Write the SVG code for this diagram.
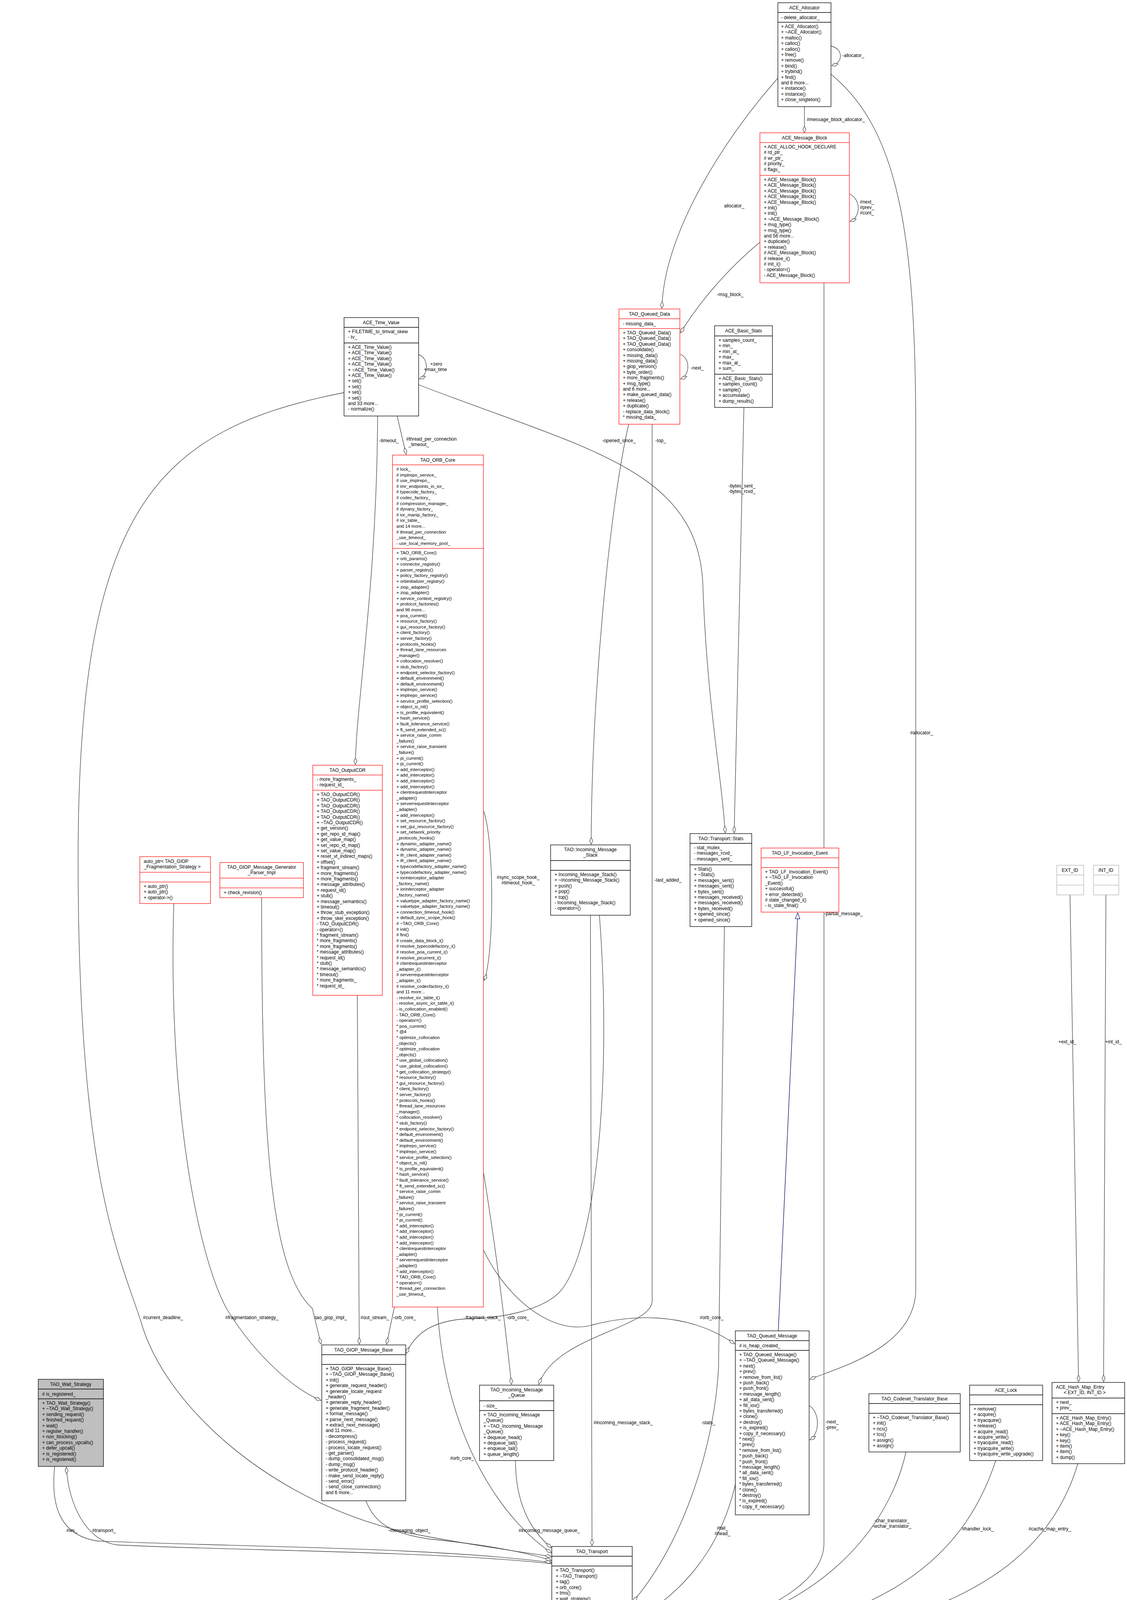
<svg xmlns="http://www.w3.org/2000/svg" width="2886" height="4800" viewBox="0 0 2886 4800">
<defs>
<style>
text{font-family:"Liberation Sans",Arial,sans-serif;font-size:12px;fill:#000}
.t{text-anchor:middle}
.b{fill:#fff;stroke:#000;stroke-width:1.3}
.r{fill:#fff;stroke:#ff3030;stroke-width:1.5}
.gf{fill:#bfbfbf;stroke:#000;stroke-width:1.3}
.gb{fill:#fff;stroke:#bfbfbf;stroke-width:1.5}
.dl{stroke:#000;stroke-width:1.3}
.dr{stroke:#ff3030;stroke-width:1.5}
.dg{stroke:#bfbfbf;stroke-width:1.5}
.e{fill:none;stroke:#404040;stroke-width:1.3;marker-end:url(#dia)}
.i{fill:none;stroke:#191970;stroke-width:1.4;marker-end:url(#tri)}
</style>
<marker id="dia" markerUnits="userSpaceOnUse" markerWidth="20" markerHeight="12" refX="18" refY="6" orient="auto"><path d="M1,6 L9.5,2 L18,6 L9.5,10 z" fill="#fff" stroke="#404040" stroke-width="1.2"/></marker>
<marker id="tri" markerUnits="userSpaceOnUse" markerWidth="18" markerHeight="14" refX="16" refY="7" orient="auto"><path d="M1,1 L16,7 L1,13 z" fill="#fff" stroke="#191970" stroke-width="1.3"/></marker>
</defs>
<rect width="2886" height="4800" fill="#fff"/>

<g id="connectors">
<path class="e" d="M2128,118 C2160,125 2160,160 2130,168"/>
<path class="e" d="M2060,273 L2060,340"/>
<path class="e" d="M1992,200 C1850,360 1700,600 1695,789"/>
<path class="e" d="M2128,190 C2300,330 2345,600 2345,1100 L2345,3300 C2345,3450 2150,3500 2074,3531"/>
<path class="e" d="M2175,496 C2205,510 2205,555 2177,567"/>
<path class="e" d="M1946,620 C1850,700 1780,790 1743,852"/>
<path class="e" d="M2110,724 L2110,3950 C2110,4100 1800,4180 1621,4230"/>
<path class="e" d="M1741,907 C1768,915 1768,960 1743,970"/>
<path class="e" d="M1610,1086 C1560,1300 1514,1800 1514,2161"/>
<path class="e" d="M1670,1086 L1670,3330 C1670,3400 1420,3420 1380,3544"/>
<path class="e" d="M1072,908 C1098,915 1098,960 1074,970"/>
<path class="e" d="M967,1065 C965,1500 912,1800 910,1957"/>
<path class="e" d="M1017,1065 L1040,1163"/>
<path class="e" d="M881,1005 C400,1100 200,1300 200,2200 C200,3000 300,3200 360,3380 C420,3600 700,3850 1050,3925 C1200,3955 1350,3975 1412,3985"/>
<path class="e" d="M1072,985 C1500,1150 1790,1200 1800,1500 C1810,1800 1850,2000 1857,2132"/>
<path class="e" d="M1905,1043 L1880,2132"/>
<path class="e" d="M1512,2343 L1516,3957"/>
<path class="e" d="M1535,2343 C1570,2800 1520,3250 1419,3320 C1380,3350 1300,3374 1200,3376 C1100,3380 1060,3420 1040,3465"/>
<path class="e" d="M1238,2075 C1266,2150 1266,2440 1240,2510"/>
<path class="e" d="M1010,3346 L990,3441"/>
<path class="e" d="M1238,3000 C1270,3200 1285,3320 1310,3544"/>
<path class="e" d="M1120,3346 C1140,3700 1300,3900 1412,3975"/>
<path class="e" d="M1238,3200 C1300,3330 1420,3420 1516,3392 C1600,3370 1750,3350 1881,3440"/>
<path class="e" d="M915,2548 L920,3441"/>
<path class="e" d="M445,2313 C430,2800 500,3200 580,3350 C660,3480 760,3560 822,3585"/>
<path class="e" d="M670,2298 C670,2900 690,3250 800,3350 L822,3441"/>
<path class="e" d="M937,3842 C960,3900 1000,3925 1100,3940 C1250,3955 1350,3975 1412,3995"/>
<path class="e" d="M140,3754 C130,3850 150,3930 250,3945 C600,3960 1100,3960 1412,4000"/>
<path class="e" d="M1413,4003 C1100,3970 600,3970 300,3955 C220,3945 175,3850 170,3756"/>
<path class="e" d="M1320,3739 C1320,3850 1360,3920 1412,3962"/>
<path class="i" d="M1993,3407 L2043,2337"/>
<path class="e" d="M1855,2372 L1840,3500 C1830,3700 1750,3950 1621,4100"/>
<path class="e" d="M2072,3598 C2100,3615 2100,3670 2074,3686"/>
<path class="e" d="M1883,3800 C1860,3900 1800,4050 1621,4150"/>
<path class="e" d="M2320,3717 C2280,3900 2100,4170 1621,4205"/>
<path class="e" d="M2550,3739 C2480,3950 2300,4200 1621,4215"/>
<path class="e" d="M2760,3747 C2700,3950 2500,4225 1621,4225"/>
<path class="e" d="M2740,2291 L2762,3537"/>
<path class="e" d="M2832,2291 L2826,3537"/>
<path class="i" d="M1320,4629 C1300,4500 1285,4400 1280,4264"/>
<path class="e" d="M1305,4629 C1300,4550 1330,4510 1360,4500 C1390,4490 1400,4450 1412,4430"/>
<path class="e" d="M1465,4489 C1440,4560 1410,4600 1405,4627"/>
<path class="e" d="M1585,4489 L1625,4554"/>
<path class="e" d="M1710,4556 C1710,4520 1620,4510 1619,4491"/>
<text x="2157" y="146">-allocator_</text>
<text x="2066" y="310">#message_block_allocator_</text>
<text x="1880" y="531" class="t">allocator_</text>
<text x="2360" y="1880" class="t">#allocator_</text>
<text x="2202" y="521">#next_</text><text x="2202" y="535">#prev_</text><text x="2202" y="549">#cont_</text>
<text x="1870" y="758" class="t">-msg_block_</text>
<text x="2160" y="2343" class="t">-partial_message_</text>
<text x="1769" y="946">-next_</text>
<text x="1692" y="1132" class="t">-top_</text>
<text x="1585" y="1132" class="t">-opened_since_</text>
<text x="1676" y="2257">-last_added_</text>
<text x="1117" y="936" class="t">+zero</text><text x="1115" y="950" class="t">+max_time</text>
<text x="996" y="1132" class="t">-timeout_</text>
<text x="1040" y="1128">#thread_per_connection</text><text x="1046" y="1142">_timeout_</text>
<text x="366" y="3377">#current_deadline_</text>
<text x="1900" y="1248" class="t">-bytes_sent_</text><text x="1900" y="1262" class="t">-bytes_rcvd_</text>
<text x="1520" y="3646">#incoming_message_stack_</text>
<text x="1282" y="3377" style="text-anchor:end">-fragment_stack_</text>
<text x="1327" y="2250" class="t">#sync_scope_hook_</text><text x="1327" y="2264" class="t">#timeout_hook_</text>
<text x="1007" y="3377">-orb_core_</text>
<text x="1297" y="3377">-orb_core_</text>
<text x="1183" y="3737" class="t">#orb_core_</text>
<text x="1792" y="3377">#orb_core_</text>
<text x="923" y="3377">#out_stream_</text>
<text x="577" y="3377">#fragmentation_strategy_</text>
<text x="803" y="3377">-tao_giop_impl_</text>
<text x="995" y="3922">-messaging_object_</text>
<text x="170" y="3922">#ws_</text>
<text x="236" y="3922">#transport_</text>
<text x="1796" y="3646">-stats_</text>
<text x="2114" y="3644">-next_</text><text x="2114" y="3658">-prev_</text>
<text x="1850" y="3916" class="t">#tail_</text><text x="1850" y="3930" class="t">#head_</text>
<text x="1328" y="3922">#incoming_message_queue_</text>
<text x="2284" y="3897" class="t">-char_translator_</text><text x="2284" y="3911" class="t">-wchar_translator_</text>
<text x="2504" y="3918" class="t">#handler_lock_</text>
<text x="2688" y="3918" class="t">#cache_map_entry_</text>
<text x="2756" y="2671" style="text-anchor:end">+ext_id_</text>
<text x="2830" y="2671">+int_id_</text>
<text x="1328" y="4526">#transport_timer_</text>
<text x="1442" y="4526">-transport_</text>
<text x="1557" y="4526">#transport_</text>
<text x="1640" y="4526">#tms_</text>
</g>

<g id="ACE_Allocator">
<rect class="b" x="1992" y="7" width="136" height="266"/>
<line class="dl" x1="1992" y1="32" x2="2128" y2="32"/><line class="dl" x1="1992" y1="57" x2="2128" y2="57"/>
<text x="2060" y="24" class="t">ACE_Allocator</text>
<text x="2000" y="49">- delete_allocator_</text>
<text x="2000" y="72"><tspan x="2000">+ ACE_Allocator()</tspan><tspan x="2000" dy="14.4">+ ~ACE_Allocator()</tspan><tspan x="2000" dy="14.4">+ malloc()</tspan><tspan x="2000" dy="14.4">+ calloc()</tspan><tspan x="2000" dy="14.4">+ calloc()</tspan><tspan x="2000" dy="14.4">+ free()</tspan><tspan x="2000" dy="14.4">+ remove()</tspan><tspan x="2000" dy="14.4">+ bind()</tspan><tspan x="2000" dy="14.4">+ trybind()</tspan><tspan x="2000" dy="14.4">+ find()</tspan><tspan x="2000" dy="14.4">and 8 more...</tspan><tspan x="2000" dy="14.4">+ instance()</tspan><tspan x="2000" dy="14.4">+ instance()</tspan><tspan x="2000" dy="14.4">+ close_singleton()</tspan></text>
</g>

<g id="ACE_Message_Block">
<rect class="r" x="1946" y="340" width="229" height="384"/>
<line class="dr" x1="1946" y1="365" x2="2175" y2="365"/><line class="dr" x1="1946" y1="449" x2="2175" y2="449"/>
<text x="2060" y="357" class="t">ACE_Message_Block</text>
<text x="1956" y="380"><tspan x="1956">+ ACE_ALLOC_HOOK_DECLARE</tspan><tspan x="1956" dy="14.4"># rd_ptr_</tspan><tspan x="1956" dy="14.4"># wr_ptr_</tspan><tspan x="1956" dy="14.4"># priority_</tspan><tspan x="1956" dy="14.4"># flags_</tspan></text>
<text x="1956" y="464"><tspan x="1956">+ ACE_Message_Block()</tspan><tspan x="1956" dy="14.4">+ ACE_Message_Block()</tspan><tspan x="1956" dy="14.4">+ ACE_Message_Block()</tspan><tspan x="1956" dy="14.4">+ ACE_Message_Block()</tspan><tspan x="1956" dy="14.4">+ ACE_Message_Block()</tspan><tspan x="1956" dy="14.4">+ init()</tspan><tspan x="1956" dy="14.4">+ init()</tspan><tspan x="1956" dy="14.4">+ ~ACE_Message_Block()</tspan><tspan x="1956" dy="14.4">+ msg_type()</tspan><tspan x="1956" dy="14.4">+ msg_type()</tspan><tspan x="1956" dy="14.4">and 56 more...</tspan><tspan x="1956" dy="14.4">+ duplicate()</tspan><tspan x="1956" dy="14.4">+ release()</tspan><tspan x="1956" dy="14.4"># ACE_Message_Block()</tspan><tspan x="1956" dy="14.4"># release_i()</tspan><tspan x="1956" dy="14.4"># init_i()</tspan><tspan x="1956" dy="14.4">- operator=()</tspan><tspan x="1956" dy="14.4">- ACE_Message_Block()</tspan></text>
</g>

<g id="TAO_Queued_Data">
<rect class="r" x="1585" y="791" width="156" height="295"/>
<line class="dr" x1="1585" y1="816" x2="1741" y2="816"/><line class="dr" x1="1585" y1="841" x2="1741" y2="841"/>
<text x="1663" y="808" class="t">TAO_Queued_Data</text>
<text x="1595" y="833">- missing_data_</text>
<text x="1595" y="856"><tspan x="1595">+ TAO_Queued_Data()</tspan><tspan x="1595" dy="14.4">+ TAO_Queued_Data()</tspan><tspan x="1595" dy="14.4">+ TAO_Queued_Data()</tspan><tspan x="1595" dy="14.4">+ consolidate()</tspan><tspan x="1595" dy="14.4">+ missing_data()</tspan><tspan x="1595" dy="14.4">+ missing_data()</tspan><tspan x="1595" dy="14.4">+ giop_version()</tspan><tspan x="1595" dy="14.4">+ byte_order()</tspan><tspan x="1595" dy="14.4">+ more_fragments()</tspan><tspan x="1595" dy="14.4">+ msg_type()</tspan><tspan x="1595" dy="14.4">and 6 more...</tspan><tspan x="1595" dy="14.4">+ make_queued_data()</tspan><tspan x="1595" dy="14.4">+ release()</tspan><tspan x="1595" dy="14.4">+ duplicate()</tspan><tspan x="1595" dy="14.4">- replace_data_block()</tspan><tspan x="1595" dy="14.4">* missing_data_</tspan></text>
</g>

<g id="ACE_Basic_Stats">
<rect class="b" x="1830" y="834" width="148" height="209"/>
<line class="dl" x1="1830" y1="860" x2="1978" y2="860"/><line class="dl" x1="1830" y1="958" x2="1978" y2="958"/>
<text x="1904" y="851" class="t">ACE_Basic_Stats</text>
<text x="1840" y="875"><tspan x="1840">+ samples_count_</tspan><tspan x="1840" dy="14.4">+ min_</tspan><tspan x="1840" dy="14.4">+ min_at_</tspan><tspan x="1840" dy="14.4">+ max_</tspan><tspan x="1840" dy="14.4">+ max_at_</tspan><tspan x="1840" dy="14.4">+ sum_</tspan></text>
<text x="1840" y="973"><tspan x="1840">+ ACE_Basic_Stats()</tspan><tspan x="1840" dy="14.4">+ samples_count()</tspan><tspan x="1840" dy="14.4">+ sample()</tspan><tspan x="1840" dy="14.4">+ accumulate()</tspan><tspan x="1840" dy="14.4">+ dump_results()</tspan></text>
</g>

<g id="ACE_Time_Value">
<rect class="b" x="881" y="813" width="191" height="252"/>
<line class="dl" x1="881" y1="838" x2="1072" y2="838"/><line class="dl" x1="881" y1="878" x2="1072" y2="878"/>
<text x="976" y="830" class="t">ACE_Time_Value</text>
<text x="891" y="853"><tspan x="891">+ FILETIME_to_timval_skew</tspan><tspan x="891" dy="14.4">- tv_</tspan></text>
<text x="891" y="893"><tspan x="891">+ ACE_Time_Value()</tspan><tspan x="891" dy="14.4">+ ACE_Time_Value()</tspan><tspan x="891" dy="14.4">+ ACE_Time_Value()</tspan><tspan x="891" dy="14.4">+ ACE_Time_Value()</tspan><tspan x="891" dy="14.4">+ ~ACE_Time_Value()</tspan><tspan x="891" dy="14.4">+ ACE_Time_Value()</tspan><tspan x="891" dy="14.4">+ set()</tspan><tspan x="891" dy="14.4">+ set()</tspan><tspan x="891" dy="14.4">+ set()</tspan><tspan x="891" dy="14.4">+ set()</tspan><tspan x="891" dy="14.4">and 33 more...</tspan><tspan x="891" dy="14.4">- normalize()</tspan></text>
</g>

<g id="TAO_ORB_Core">
<rect class="r" x="1005" y="1165" width="233" height="2181"/>
<line class="dr" x1="1005" y1="1190" x2="1238" y2="1190"/><line class="dr" x1="1005" y1="1404" x2="1238" y2="1404"/>
<text x="1121" y="1182" class="t">TAO_ORB_Core</text>
<text x="1015" y="1205" style="font-size:11.5px"><tspan x="1015"># lock_</tspan><tspan x="1015" dy="14.6"># implrepo_service_</tspan><tspan x="1015" dy="14.6"># use_implrepo_</tspan><tspan x="1015" dy="14.6"># imr_endpoints_in_ior_</tspan><tspan x="1015" dy="14.6"># typecode_factory_</tspan><tspan x="1015" dy="14.6"># codec_factory_</tspan><tspan x="1015" dy="14.6"># compression_manager_</tspan><tspan x="1015" dy="14.6"># dynany_factory_</tspan><tspan x="1015" dy="14.6"># ior_manip_factory_</tspan><tspan x="1015" dy="14.6"># ior_table_</tspan><tspan x="1015" dy="14.6">and 14 more...</tspan><tspan x="1015" dy="14.6"># thread_per_connection</tspan><tspan x="1015" dy="14.6">_use_timeout_</tspan><tspan x="1015" dy="14.6">- use_local_memory_pool_</tspan></text>
<text x="1015" y="1419" style="font-size:11.5px"><tspan x="1015">+ TAO_ORB_Core()</tspan><tspan x="1015" dy="14.6">+ orb_params()</tspan><tspan x="1015" dy="14.6">+ connector_registry()</tspan><tspan x="1015" dy="14.6">+ parser_registry()</tspan><tspan x="1015" dy="14.6">+ policy_factory_registry()</tspan><tspan x="1015" dy="14.6">+ orbinitializer_registry()</tspan><tspan x="1015" dy="14.6">+ ziop_adapter()</tspan><tspan x="1015" dy="14.6">+ ziop_adapter()</tspan><tspan x="1015" dy="14.6">+ service_context_registry()</tspan><tspan x="1015" dy="14.6">+ protocol_factories()</tspan><tspan x="1015" dy="14.6">and 96 more...</tspan><tspan x="1015" dy="14.6">+ poa_current()</tspan><tspan x="1015" dy="14.6">+ resource_factory()</tspan><tspan x="1015" dy="14.6">+ gui_resource_factory()</tspan><tspan x="1015" dy="14.6">+ client_factory()</tspan><tspan x="1015" dy="14.6">+ server_factory()</tspan><tspan x="1015" dy="14.6">+ protocols_hooks()</tspan><tspan x="1015" dy="14.6">+ thread_lane_resources</tspan><tspan x="1015" dy="14.6">_manager()</tspan><tspan x="1015" dy="14.6">+ collocation_resolver()</tspan><tspan x="1015" dy="14.6">+ stub_factory()</tspan><tspan x="1015" dy="14.6">+ endpoint_selector_factory()</tspan><tspan x="1015" dy="14.6">+ default_environment()</tspan><tspan x="1015" dy="14.6">+ default_environment()</tspan><tspan x="1015" dy="14.6">+ implrepo_service()</tspan><tspan x="1015" dy="14.6">+ implrepo_service()</tspan><tspan x="1015" dy="14.6">+ service_profile_selection()</tspan><tspan x="1015" dy="14.6">+ object_is_nil()</tspan><tspan x="1015" dy="14.6">+ is_profile_equivalent()</tspan><tspan x="1015" dy="14.6">+ hash_service()</tspan><tspan x="1015" dy="14.6">+ fault_tolerance_service()</tspan><tspan x="1015" dy="14.6">+ ft_send_extended_sc()</tspan><tspan x="1015" dy="14.6">+ service_raise_comm</tspan><tspan x="1015" dy="14.6">_failure()</tspan><tspan x="1015" dy="14.6">+ service_raise_transient</tspan><tspan x="1015" dy="14.6">_failure()</tspan><tspan x="1015" dy="14.6">+ pi_current()</tspan><tspan x="1015" dy="14.6">+ pi_current()</tspan><tspan x="1015" dy="14.6">+ add_interceptor()</tspan><tspan x="1015" dy="14.6">+ add_interceptor()</tspan><tspan x="1015" dy="14.6">+ add_interceptor()</tspan><tspan x="1015" dy="14.6">+ add_interceptor()</tspan><tspan x="1015" dy="14.6">+ clientrequestinterceptor</tspan><tspan x="1015" dy="14.6">_adapter()</tspan><tspan x="1015" dy="14.6">+ serverrequestinterceptor</tspan><tspan x="1015" dy="14.6">_adapter()</tspan><tspan x="1015" dy="14.6">+ add_interceptor()</tspan><tspan x="1015" dy="14.6">+ set_resource_factory()</tspan><tspan x="1015" dy="14.6">+ set_gui_resource_factory()</tspan><tspan x="1015" dy="14.6">+ set_network_priority</tspan><tspan x="1015" dy="14.6">_protocols_hooks()</tspan><tspan x="1015" dy="14.6">+ dynamic_adapter_name()</tspan><tspan x="1015" dy="14.6">+ dynamic_adapter_name()</tspan><tspan x="1015" dy="14.6">+ ifr_client_adapter_name()</tspan><tspan x="1015" dy="14.6">+ ifr_client_adapter_name()</tspan><tspan x="1015" dy="14.6">+ typecodefactory_adapter_name()</tspan><tspan x="1015" dy="14.6">+ typecodefactory_adapter_name()</tspan><tspan x="1015" dy="14.6">+ iorinterceptor_adapter</tspan><tspan x="1015" dy="14.6">_factory_name()</tspan><tspan x="1015" dy="14.6">+ iorinterceptor_adapter</tspan><tspan x="1015" dy="14.6">_factory_name()</tspan><tspan x="1015" dy="14.6">+ valuetype_adapter_factory_name()</tspan><tspan x="1015" dy="14.6">+ valuetype_adapter_factory_name()</tspan><tspan x="1015" dy="14.6">+ connection_timeout_hook()</tspan><tspan x="1015" dy="14.6">+ default_sync_scope_hook()</tspan><tspan x="1015" dy="14.6"># ~TAO_ORB_Core()</tspan><tspan x="1015" dy="14.6"># init()</tspan><tspan x="1015" dy="14.6"># fini()</tspan><tspan x="1015" dy="14.6"># create_data_block_i()</tspan><tspan x="1015" dy="14.6"># resolve_typecodefactory_i()</tspan><tspan x="1015" dy="14.6"># resolve_poa_current_i()</tspan><tspan x="1015" dy="14.6"># resolve_picurrent_i()</tspan><tspan x="1015" dy="14.6"># clientrequestinterceptor</tspan><tspan x="1015" dy="14.6">_adapter_i()</tspan><tspan x="1015" dy="14.6"># serverrequestinterceptor</tspan><tspan x="1015" dy="14.6">_adapter_i()</tspan><tspan x="1015" dy="14.6"># resolve_codecfactory_i()</tspan><tspan x="1015" dy="14.6">and 11 more...</tspan><tspan x="1015" dy="14.6">- resolve_ior_table_i()</tspan><tspan x="1015" dy="14.6">- resolve_async_ior_table_i()</tspan><tspan x="1015" dy="14.6">- is_collocation_enabled()</tspan><tspan x="1015" dy="14.6">- TAO_ORB_Core()</tspan><tspan x="1015" dy="14.6">- operator=()</tspan><tspan x="1015" dy="14.6">* poa_current()</tspan><tspan x="1015" dy="14.6">* @4</tspan><tspan x="1015" dy="14.6">* optimize_collocation</tspan><tspan x="1015" dy="14.6">_objects()</tspan><tspan x="1015" dy="14.6">* optimize_collocation</tspan><tspan x="1015" dy="14.6">_objects()</tspan><tspan x="1015" dy="14.6">* use_global_collocation()</tspan><tspan x="1015" dy="14.6">* use_global_collocation()</tspan><tspan x="1015" dy="14.6">* get_collocation_strategy()</tspan><tspan x="1015" dy="14.6">* resource_factory()</tspan><tspan x="1015" dy="14.6">* gui_resource_factory()</tspan><tspan x="1015" dy="14.6">* client_factory()</tspan><tspan x="1015" dy="14.6">* server_factory()</tspan><tspan x="1015" dy="14.6">* protocols_hooks()</tspan><tspan x="1015" dy="14.6">* thread_lane_resources</tspan><tspan x="1015" dy="14.6">_manager()</tspan><tspan x="1015" dy="14.6">* collocation_resolver()</tspan><tspan x="1015" dy="14.6">* stub_factory()</tspan><tspan x="1015" dy="14.6">* endpoint_selector_factory()</tspan><tspan x="1015" dy="14.6">* default_environment()</tspan><tspan x="1015" dy="14.6">* default_environment()</tspan><tspan x="1015" dy="14.6">* implrepo_service()</tspan><tspan x="1015" dy="14.6">* implrepo_service()</tspan><tspan x="1015" dy="14.6">* service_profile_selection()</tspan><tspan x="1015" dy="14.6">* object_is_nil()</tspan><tspan x="1015" dy="14.6">* is_profile_equivalent()</tspan><tspan x="1015" dy="14.6">* hash_service()</tspan><tspan x="1015" dy="14.6">* fault_tolerance_service()</tspan><tspan x="1015" dy="14.6">* ft_send_extended_sc()</tspan><tspan x="1015" dy="14.6">* service_raise_comm</tspan><tspan x="1015" dy="14.6">_failure()</tspan><tspan x="1015" dy="14.6">* service_raise_transient</tspan><tspan x="1015" dy="14.6">_failure()</tspan><tspan x="1015" dy="14.6">* pi_current()</tspan><tspan x="1015" dy="14.6">* pi_current()</tspan><tspan x="1015" dy="14.6">* add_interceptor()</tspan><tspan x="1015" dy="14.6">* add_interceptor()</tspan><tspan x="1015" dy="14.6">* add_interceptor()</tspan><tspan x="1015" dy="14.6">* add_interceptor()</tspan><tspan x="1015" dy="14.6">* clientrequestinterceptor</tspan><tspan x="1015" dy="14.6">_adapter()</tspan><tspan x="1015" dy="14.6">* serverrequestinterceptor</tspan><tspan x="1015" dy="14.6">_adapter()</tspan><tspan x="1015" dy="14.6">* add_interceptor()</tspan><tspan x="1015" dy="14.6">* TAO_ORB_Core()</tspan><tspan x="1015" dy="14.6">* operator=()</tspan><tspan x="1015" dy="14.6">* thread_per_connection</tspan><tspan x="1015" dy="14.6">_use_timeout_</tspan></text>
</g>

<g id="TAO_OutputCDR">
<rect class="r" x="801" y="1959" width="178" height="589"/>
<line class="dr" x1="801" y1="1984" x2="979" y2="1984"/><line class="dr" x1="801" y1="2023" x2="979" y2="2023"/>
<text x="890" y="1976" class="t">TAO_OutputCDR</text>
<text x="811" y="1999"><tspan x="811">- more_fragments_</tspan><tspan x="811" dy="14.4">- request_id_</tspan></text>
<text x="811" y="2038"><tspan x="811">+ TAO_OutputCDR()</tspan><tspan x="811" dy="14.4">+ TAO_OutputCDR()</tspan><tspan x="811" dy="14.4">+ TAO_OutputCDR()</tspan><tspan x="811" dy="14.4">+ TAO_OutputCDR()</tspan><tspan x="811" dy="14.4">+ TAO_OutputCDR()</tspan><tspan x="811" dy="14.4">+ ~TAO_OutputCDR()</tspan><tspan x="811" dy="14.4">+ get_version()</tspan><tspan x="811" dy="14.4">+ get_repo_id_map()</tspan><tspan x="811" dy="14.4">+ get_value_map()</tspan><tspan x="811" dy="14.4">+ set_repo_id_map()</tspan><tspan x="811" dy="14.4">+ set_value_map()</tspan><tspan x="811" dy="14.4">+ reset_vt_indirect_maps()</tspan><tspan x="811" dy="14.4">+ offset()</tspan><tspan x="811" dy="14.4">+ fragment_stream()</tspan><tspan x="811" dy="14.4">+ more_fragments()</tspan><tspan x="811" dy="14.4">+ more_fragments()</tspan><tspan x="811" dy="14.4">+ message_attributes()</tspan><tspan x="811" dy="14.4">+ request_id()</tspan><tspan x="811" dy="14.4">+ stub()</tspan><tspan x="811" dy="14.4">+ message_semantics()</tspan><tspan x="811" dy="14.4">+ timeout()</tspan><tspan x="811" dy="14.4">+ throw_stub_exception()</tspan><tspan x="811" dy="14.4">+ throw_skel_exception()</tspan><tspan x="811" dy="14.4">- TAO_OutputCDR()</tspan><tspan x="811" dy="14.4">- operator=()</tspan><tspan x="811" dy="14.4">* fragment_stream()</tspan><tspan x="811" dy="14.4">* more_fragments()</tspan><tspan x="811" dy="14.4">* more_fragments()</tspan><tspan x="811" dy="14.4">* message_attributes()</tspan><tspan x="811" dy="14.4">* request_id()</tspan><tspan x="811" dy="14.4">* stub()</tspan><tspan x="811" dy="14.4">* message_semantics()</tspan><tspan x="811" dy="14.4">* timeout()</tspan><tspan x="811" dy="14.4">* more_fragments_</tspan><tspan x="811" dy="14.4">* request_id_</tspan></text>
</g>

<g id="auto_ptr">
<rect class="r" x="358" y="2193" width="181" height="120"/>
<line class="dr" x1="358" y1="2233" x2="539" y2="2233"/><line class="dr" x1="358" y1="2258" x2="539" y2="2258"/>
<text x="368" y="2209"><tspan x="368">auto_ptr&lt; TAO_GIOP</tspan><tspan x="368" dy="14.4">_Fragmentation_Strategy &gt;</tspan></text>
<text x="368" y="2273"><tspan x="368">+ auto_ptr()</tspan><tspan x="368" dy="14.4">+ auto_ptr()</tspan><tspan x="368" dy="14.4">+ operator-&gt;()</tspan></text>
</g>

<g id="TAO_GIOP_Message_Generator_Parser_Impl">
<rect class="r" x="563" y="2208" width="214" height="90"/>
<line class="dr" x1="563" y1="2248" x2="777" y2="2248"/><line class="dr" x1="563" y1="2273" x2="777" y2="2273"/>
<text x="670" y="2224" class="t"><tspan x="670">TAO_GIOP_Message_Generator</tspan><tspan x="670" dy="14.4">_Parser_Impl</tspan></text>
<text x="573" y="2289">+ check_revision()</text>
</g>

<g id="TAO_Incoming_Message_Stack">
<rect class="b" x="1410" y="2163" width="204" height="180"/>
<line class="dl" x1="1410" y1="2203" x2="1614" y2="2203"/><line class="dl" x1="1410" y1="2228" x2="1614" y2="2228"/>
<text x="1512" y="2179" class="t"><tspan x="1512">TAO::Incoming_Message</tspan><tspan x="1512" dy="14.4">_Stack</tspan></text>
<text x="1420" y="2243"><tspan x="1420">+ Incoming_Message_Stack()</tspan><tspan x="1420" dy="14.4">+ ~Incoming_Message_Stack()</tspan><tspan x="1420" dy="14.4">+ push()</tspan><tspan x="1420" dy="14.4">+ pop()</tspan><tspan x="1420" dy="14.4">+ top()</tspan><tspan x="1420" dy="14.4">- Incoming_Message_Stack()</tspan><tspan x="1420" dy="14.4">- operator=()</tspan></text>
</g>

<g id="TAO_Transport_Stats">
<rect class="b" x="1767" y="2134" width="158" height="238"/>
<line class="dl" x1="1767" y1="2159" x2="1925" y2="2159"/><line class="dl" x1="1767" y1="2214" x2="1925" y2="2214"/>
<text x="1846" y="2151" class="t">TAO::Transport::Stats</text>
<text x="1777" y="2174"><tspan x="1777">- stat_mutex_</tspan><tspan x="1777" dy="14.4">- messages_rcvd_</tspan><tspan x="1777" dy="14.4">- messages_sent_</tspan></text>
<text x="1777" y="2229"><tspan x="1777">+ Stats()</tspan><tspan x="1777" dy="14.4">+ ~Stats()</tspan><tspan x="1777" dy="14.4">+ messages_sent()</tspan><tspan x="1777" dy="14.4">+ messages_sent()</tspan><tspan x="1777" dy="14.4">+ bytes_sent()</tspan><tspan x="1777" dy="14.4">+ messages_received()</tspan><tspan x="1777" dy="14.4">+ messages_received()</tspan><tspan x="1777" dy="14.4">+ bytes_received()</tspan><tspan x="1777" dy="14.4">+ opened_since()</tspan><tspan x="1777" dy="14.4">+ opened_since()</tspan></text>
</g>

<g id="TAO_LF_Invocation_Event">
<rect class="r" x="1949" y="2171" width="199" height="164"/>
<line class="dr" x1="1949" y1="2196" x2="2148" y2="2196"/><line class="dr" x1="1949" y1="2221" x2="2148" y2="2221"/>
<text x="2048" y="2188" class="t">TAO_LF_Invocation_Event</text>
<text x="1959" y="2236"><tspan x="1959">+ TAO_LF_Invocation_Event()</tspan><tspan x="1959" dy="14.4">+ ~TAO_LF_Invocation</tspan><tspan x="1959" dy="14.4">_Event()</tspan><tspan x="1959" dy="14.4">+ successful()</tspan><tspan x="1959" dy="14.4">+ error_detected()</tspan><tspan x="1959" dy="14.4"># state_changed_i()</tspan><tspan x="1959" dy="14.4">- is_state_final()</tspan></text>
</g>

<g id="EXT_ID">
<rect class="gb" x="2706" y="2215" width="69" height="76"/>
<line class="dg" x1="2706" y1="2240" x2="2775" y2="2240"/><line class="dg" x1="2706" y1="2266" x2="2775" y2="2266"/>
<text x="2740" y="2232" class="t">EXT_ID</text>
</g>
<g id="INT_ID">
<rect class="gb" x="2800" y="2215" width="65" height="76"/>
<line class="dg" x1="2800" y1="2240" x2="2865" y2="2240"/><line class="dg" x1="2800" y1="2266" x2="2865" y2="2266"/>
<text x="2832" y="2232" class="t">INT_ID</text>
</g>

<g id="TAO_Wait_Strategy">
<rect class="gf" x="98" y="3531" width="167" height="223"/>
<line class="dl" x1="98" y1="3556" x2="265" y2="3556"/><line class="dl" x1="98" y1="3581" x2="265" y2="3581"/>
<text x="181" y="3548" class="t">TAO_Wait_Strategy</text>
<text x="108" y="3573"># is_registered_</text>
<text x="108" y="3596"><tspan x="108">+ TAO_Wait_Strategy()</tspan><tspan x="108" dy="14.4">+ ~TAO_Wait_Strategy()</tspan><tspan x="108" dy="14.4">+ sending_request()</tspan><tspan x="108" dy="14.4">+ finished_request()</tspan><tspan x="108" dy="14.4">+ wait()</tspan><tspan x="108" dy="14.4">+ register_handler()</tspan><tspan x="108" dy="14.4">+ non_blocking()</tspan><tspan x="108" dy="14.4">+ can_process_upcalls()</tspan><tspan x="108" dy="14.4">+ defer_upcall()</tspan><tspan x="108" dy="14.4">+ is_registered()</tspan><tspan x="108" dy="14.4">+ is_registered()</tspan></text>
</g>

<g id="TAO_GIOP_Message_Base">
<rect class="b" x="824" y="3443" width="215" height="399"/>
<line class="dl" x1="824" y1="3468" x2="1039" y2="3468"/><line class="dl" x1="824" y1="3493" x2="1039" y2="3493"/>
<text x="931" y="3460" class="t">TAO_GIOP_Message_Base</text>
<text x="834" y="3508"><tspan x="834">+ TAO_GIOP_Message_Base()</tspan><tspan x="834" dy="14.4">+ ~TAO_GIOP_Message_Base()</tspan><tspan x="834" dy="14.4">+ init()</tspan><tspan x="834" dy="14.4">+ generate_request_header()</tspan><tspan x="834" dy="14.4">+ generate_locate_request</tspan><tspan x="834" dy="14.4">_header()</tspan><tspan x="834" dy="14.4">+ generate_reply_header()</tspan><tspan x="834" dy="14.4">+ generate_fragment_header()</tspan><tspan x="834" dy="14.4">+ format_message()</tspan><tspan x="834" dy="14.4">+ parse_next_message()</tspan><tspan x="834" dy="14.4">+ extract_next_message()</tspan><tspan x="834" dy="14.4">and 11 more...</tspan><tspan x="834" dy="14.4">- decompress()</tspan><tspan x="834" dy="14.4">- process_request()</tspan><tspan x="834" dy="14.4">- process_locate_request()</tspan><tspan x="834" dy="14.4">- get_parser()</tspan><tspan x="834" dy="14.4">- dump_consolidated_msg()</tspan><tspan x="834" dy="14.4">- dump_msg()</tspan><tspan x="834" dy="14.4">- write_protocol_header()</tspan><tspan x="834" dy="14.4">- make_send_locate_reply()</tspan><tspan x="834" dy="14.4">- send_error()</tspan><tspan x="834" dy="14.4">- send_close_connection()</tspan><tspan x="834" dy="14.4">and 6 more...</tspan></text>
</g>

<g id="TAO_Incoming_Message_Queue">
<rect class="b" x="1228" y="3546" width="190" height="193"/>
<line class="dl" x1="1228" y1="3586" x2="1418" y2="3586"/><line class="dl" x1="1228" y1="3611" x2="1418" y2="3611"/>
<text x="1323" y="3562" class="t"><tspan x="1323">TAO_Incoming_Message</tspan><tspan x="1323" dy="14.4">_Queue</tspan></text>
<text x="1238" y="3603">- size_</text>
<text x="1238" y="3626"><tspan x="1238">+ TAO_Incoming_Message</tspan><tspan x="1238" dy="14.4">_Queue()</tspan><tspan x="1238" dy="14.4">+ ~TAO_Incoming_Message</tspan><tspan x="1238" dy="14.4">_Queue()</tspan><tspan x="1238" dy="14.4">+ dequeue_head()</tspan><tspan x="1238" dy="14.4">+ dequeue_tail()</tspan><tspan x="1238" dy="14.4">+ enqueue_tail()</tspan><tspan x="1238" dy="14.4">+ queue_length()</tspan></text>
</g>

<g id="TAO_Queued_Message">
<rect class="b" x="1883" y="3407" width="189" height="471"/>
<line class="dl" x1="1883" y1="3432" x2="2072" y2="3432"/><line class="dl" x1="1883" y1="3457" x2="2072" y2="3457"/>
<text x="1977" y="3424" class="t">TAO_Queued_Message</text>
<text x="1893" y="3449"># is_heap_created_</text>
<text x="1893" y="3472"><tspan x="1893">+ TAO_Queued_Message()</tspan><tspan x="1893" dy="14.4">+ ~TAO_Queued_Message()</tspan><tspan x="1893" dy="14.4">+ next()</tspan><tspan x="1893" dy="14.4">+ prev()</tspan><tspan x="1893" dy="14.4">+ remove_from_list()</tspan><tspan x="1893" dy="14.4">+ push_back()</tspan><tspan x="1893" dy="14.4">+ push_front()</tspan><tspan x="1893" dy="14.4">+ message_length()</tspan><tspan x="1893" dy="14.4">+ all_data_sent()</tspan><tspan x="1893" dy="14.4">+ fill_iov()</tspan><tspan x="1893" dy="14.4">+ bytes_transferred()</tspan><tspan x="1893" dy="14.4">+ clone()</tspan><tspan x="1893" dy="14.4">+ destroy()</tspan><tspan x="1893" dy="14.4">+ is_expired()</tspan><tspan x="1893" dy="14.4">+ copy_if_necessary()</tspan><tspan x="1893" dy="14.4">* next()</tspan><tspan x="1893" dy="14.4">* prev()</tspan><tspan x="1893" dy="14.4">* remove_from_list()</tspan><tspan x="1893" dy="14.4">* push_back()</tspan><tspan x="1893" dy="14.4">* push_front()</tspan><tspan x="1893" dy="14.4">* message_length()</tspan><tspan x="1893" dy="14.4">* all_data_sent()</tspan><tspan x="1893" dy="14.4">* fill_iov()</tspan><tspan x="1893" dy="14.4">* bytes_transferred()</tspan><tspan x="1893" dy="14.4">* clone()</tspan><tspan x="1893" dy="14.4">* destroy()</tspan><tspan x="1893" dy="14.4">* is_expired()</tspan><tspan x="1893" dy="14.4">* copy_if_necessary()</tspan></text>
</g>

<g id="TAO_Codeset_Translator_Base">
<rect class="b" x="2225" y="3568" width="234" height="149"/>
<line class="dl" x1="2225" y1="3593" x2="2459" y2="3593"/><line class="dl" x1="2225" y1="3618" x2="2459" y2="3618"/>
<text x="2342" y="3585" class="t">TAO_Codeset_Translator_Base</text>
<text x="2235" y="3633"><tspan x="2235">+ ~TAO_Codeset_Translator_Base()</tspan><tspan x="2235" dy="14.4">+ init()</tspan><tspan x="2235" dy="14.4">+ ncs()</tspan><tspan x="2235" dy="14.4">+ tcs()</tspan><tspan x="2235" dy="14.4">+ assign()</tspan><tspan x="2235" dy="14.4">+ assign()</tspan></text>
</g>

<g id="ACE_Lock">
<rect class="b" x="2483" y="3546" width="187" height="193"/>
<line class="dl" x1="2483" y1="3571" x2="2670" y2="3571"/><line class="dl" x1="2483" y1="3596" x2="2670" y2="3596"/>
<text x="2576" y="3563" class="t">ACE_Lock</text>
<text x="2493" y="3611"><tspan x="2493">+ remove()</tspan><tspan x="2493" dy="14.4">+ acquire()</tspan><tspan x="2493" dy="14.4">+ tryacquire()</tspan><tspan x="2493" dy="14.4">+ release()</tspan><tspan x="2493" dy="14.4">+ acquire_read()</tspan><tspan x="2493" dy="14.4">+ acquire_write()</tspan><tspan x="2493" dy="14.4">+ tryacquire_read()</tspan><tspan x="2493" dy="14.4">+ tryacquire_write()</tspan><tspan x="2493" dy="14.4">+ tryacquire_write_upgrade()</tspan></text>
</g>

<g id="ACE_Hash_Map_Entry">
<rect class="b" x="2694" y="3539" width="186" height="208"/>
<line class="dl" x1="2694" y1="3579" x2="2880" y2="3579"/><line class="dl" x1="2694" y1="3619" x2="2880" y2="3619"/>
<text x="2704" y="3555"><tspan x="2704">ACE_Hash_Map_Entry</tspan><tspan x="2724" dy="14.4">&lt; EXT_ID, INT_ID &gt;</tspan></text>
<text x="2704" y="3594"><tspan x="2704">+ next_</tspan><tspan x="2704" dy="14.4">+ prev_</tspan></text>
<text x="2704" y="3634"><tspan x="2704">+ ACE_Hash_Map_Entry()</tspan><tspan x="2704" dy="14.4">+ ACE_Hash_Map_Entry()</tspan><tspan x="2704" dy="14.4">+ ~ACE_Hash_Map_Entry()</tspan><tspan x="2704" dy="14.4">+ key()</tspan><tspan x="2704" dy="14.4">+ key()</tspan><tspan x="2704" dy="14.4">+ item()</tspan><tspan x="2704" dy="14.4">+ item()</tspan><tspan x="2704" dy="14.4">+ dump()</tspan></text>
</g>

<g id="TAO_Transport">
<rect class="b" x="1413" y="3959" width="206" height="530"/>
<line class="dl" x1="1413" y1="3984" x2="1619" y2="3984"/><line class="dl" x1="1413" y1="4009" x2="1619" y2="4009"/>
<text x="1516" y="3976" class="t">TAO_Transport</text>
<text x="1423" y="4024"><tspan x="1423">+ TAO_Transport()</tspan><tspan x="1423" dy="14.6">+ ~TAO_Transport()</tspan><tspan x="1423" dy="14.6">+ tag()</tspan><tspan x="1423" dy="14.6">+ orb_core()</tspan><tspan x="1423" dy="14.6">+ tms()</tspan><tspan x="1423" dy="14.6">+ wait_strategy()</tspan><tspan x="1423" dy="14.6">+ handle_output()</tspan><tspan x="1423" dy="14.6">+ bidirectional_flag()</tspan><tspan x="1423" dy="14.6">+ bidirectional_flag()</tspan><tspan x="1423" dy="14.6">+ cache_map_entry()</tspan><tspan x="1423" dy="14.6">and 15 more...</tspan><tspan x="1423" dy="14.6">+ idle_after_send()</tspan><tspan x="1423" dy="14.6">+ idle_after_reply()</tspan><tspan x="1423" dy="14.6">+ close_connection()</tspan><tspan x="1423" dy="14.6">* idle_after_send()</tspan><tspan x="1423" dy="14.6">* idle_after_reply()</tspan><tspan x="1423" dy="14.6">* close_connection()</tspan><tspan x="1423" dy="14.6">* TAO_Reactive_Flushing</tspan><tspan x="1423" dy="14.6">_Strategy</tspan><tspan x="1423" dy="14.6">* TAO_Leader_Follower</tspan><tspan x="1423" dy="14.6">_Flushing_Strategy</tspan><tspan x="1423" dy="14.6">* TAO_Thread_Per_Connection</tspan><tspan x="1423" dy="14.6">_Handler</tspan><tspan x="1423" dy="14.6">* tag_</tspan><tspan x="1423" dy="14.6">* bidirectional_flag_</tspan><tspan x="1423" dy="14.6">* opening_connection</tspan><tspan x="1423" dy="14.6">_role_</tspan><tspan x="1423" dy="14.6">* flush_timer_id_</tspan><tspan x="1423" dy="14.6">* id_</tspan><tspan x="1423" dy="14.6">* purging_order_</tspan><tspan x="1423" dy="14.6">* recv_buffer_size_</tspan><tspan x="1423" dy="14.6">and 86 more...</tspan></text>
</g>

<g id="ACE_Event_Handler">
<rect class="r" x="1208" y="4185" width="143" height="77"/>
<line class="dr" x1="1208" y1="4210" x2="1351" y2="4210"/><line class="dr" x1="1208" y1="4236" x2="1351" y2="4236"/>
<text x="1279" y="4202" class="t">ACE_Event_Handler</text>
<text x="1218" y="4227">- priority_</text>
</g>

<g id="TAO_Transport_Timer">
<rect class="b" x="1238" y="4629" width="170" height="91"/>
<line class="dl" x1="1238" y1="4654" x2="1408" y2="4654"/><line class="dl" x1="1238" y1="4679" x2="1408" y2="4679"/>
<text x="1323" y="4646" class="t">TAO_Transport_Timer</text>
<text x="1248" y="4694"><tspan x="1248">+ TAO_Transport_Timer()</tspan><tspan x="1248" dy="14.4">+ handle_timeout()</tspan></text>
</g>

<g id="TAO_Transport_Mux_Strategy">
<rect class="b" x="1496" y="4556" width="219" height="237"/>
<line class="dl" x1="1496" y1="4581" x2="1715" y2="4581"/><line class="dl" x1="1496" y1="4606" x2="1715" y2="4606"/>
<text x="1605" y="4573" class="t">TAO_Transport_Mux_Strategy</text>
<text x="1506" y="4621"><tspan x="1506">+ TAO_Transport_Mux_Strategy()</tspan><tspan x="1506" dy="14.4">+ ~TAO_Transport_Mux</tspan><tspan x="1506" dy="14.4">_Strategy()</tspan><tspan x="1506" dy="14.4">+ request_id()</tspan><tspan x="1506" dy="14.4">+ bind_dispatcher()</tspan><tspan x="1506" dy="14.4">+ unbind_dispatcher()</tspan><tspan x="1506" dy="14.4">+ reply_timed_out()</tspan><tspan x="1506" dy="14.4">+ dispatch_reply()</tspan><tspan x="1506" dy="14.4">+ idle_after_send()</tspan><tspan x="1506" dy="14.4">+ idle_after_reply()</tspan><tspan x="1506" dy="14.4">+ connection_closed()</tspan><tspan x="1506" dy="14.4">+ has_request()</tspan></text>
</g>
</svg>
